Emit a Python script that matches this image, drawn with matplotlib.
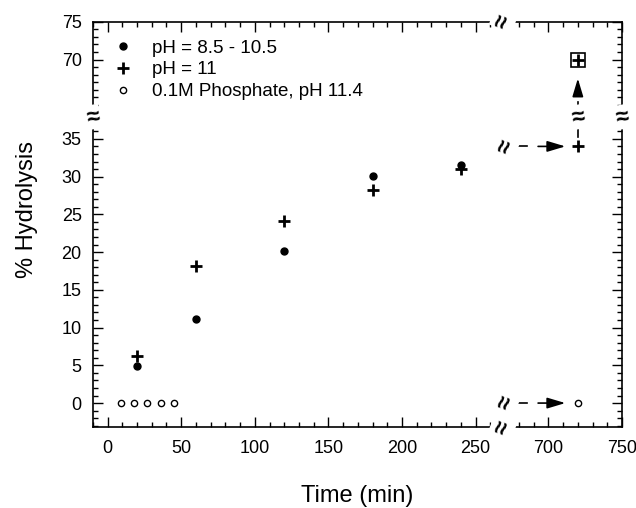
import numpy as np
import matplotlib
matplotlib.use('Agg')
import matplotlib.pyplot as plt
from matplotlib.ticker import FixedLocator

plt.rcParams['font.family'] = ['Liberation Sans', 'DejaVu Sans']

# data
t_a = [20, 60, 120, 180, 240]
h_a = [4.9, 11.1, 20.1, 30.1, 31.6]

t_b = [20, 60, 120, 180, 240, 720]
h_b = [6.2, 18.2, 24.1, 28.2, 31.0, 34.0]

t_c = [9, 18, 27, 36, 45, 720]
h_c = [0, 0, 0, 0, 0, 0]

t_box = [720]
h_box = [70.0]

x_ticks = [0, 50, 100, 150, 200, 250, 700, 750]
y_ticks = [0, 5, 10, 15, 20, 25, 30, 35, 70, 75]

# broken axes: gap in x between xa and xb, gap in y between ya and yb
xa, xb = 268.4, 669.0
ya, yb = 37.9, 62.4


def make_scale(a, b):
    g = b - a

    def fwd(v):
        v = np.asarray(v, dtype=float)
        return v - g * np.clip((v - a) / g, 0, 1)

    def inv(v):
        v = np.asarray(v, dtype=float)
        return np.where(v > a, v + g, v)
    return fwd, inv


fig = plt.figure(figsize=(6.36, 5.08), dpi=100)
ax = fig.add_axes([0.146, 0.159, 0.832, 0.798])
ax.set_xscale('function', functions=make_scale(xa, xb))
ax.set_yscale('function', functions=make_scale(ya, yb))
ax.set_xlim(-10, 750)
ax.set_ylim(-3.2, 75)

ax.plot(t_a, h_a, 'o', color='black', ms=5, label='pH = 8.5 - 10.5')
ax.plot(t_b, h_b, '+', color='black', ms=8, mew=2, label='pH = 11')
ax.plot(t_c, h_c, 'o', mfc='white', mec='black', ms=4.5, mew=1,
        label='0.1M Phosphate, pH 11.4')
ax.plot(t_box, h_box, 's', mfc='white', mec='black', ms=10, mew=1.2)
ax.plot(t_box, h_box, '+', color='black', ms=8.5, mew=2)

ax.xaxis.set_major_locator(FixedLocator(x_ticks))
ax.xaxis.set_minor_locator(FixedLocator(list(range(-10, 270, 10)) + list(range(670, 751, 10))))
ax.yaxis.set_major_locator(FixedLocator(y_ticks))
ax.yaxis.set_minor_locator(FixedLocator(list(range(-3, 38)) + list(range(63, 76))))
ax.set_xticklabels([str(v) for v in x_ticks])
ax.set_yticklabels([str(v) for v in y_ticks])
ax.tick_params(which='both', direction='in', top=True, right=True, width=1,
               labelsize=13)
ax.tick_params(axis='y', pad=8)
ax.tick_params(axis='x', pad=9)
ax.tick_params(which='major', length=7)
ax.tick_params(which='minor', length=3.5)
for s in ax.spines.values():
    s.set_linewidth(1.2)

ax.set_xlabel('Time (min)', fontsize=17)
ax.set_ylabel('% Hydrolysis', fontsize=17)
ax.xaxis.set_label_coords(0.5, -0.143)
ax.yaxis.set_label_coords(-0.104, 0.536)

ax.legend(loc='upper left', bbox_to_anchor=(0.025, 0.975), frameon=False,
          fontsize=13.5, handletextpad=1.05, handlelength=1.0,
          borderaxespad=0, labelspacing=0.25)

# dashed arrows to the off-scale points
x_end, y_end = t_b[-1], h_b[-1]
head = dict(arrowstyle='-|>,head_length=1.1,head_width=0.33', color='black',
            lw=1.2, shrinkA=0, shrinkB=0, mutation_scale=10)
for yy in (h_b[-1], h_c[-1]):
    ax.plot([x_end - 42.3, x_end - 34.2], [yy, yy], color='black', lw=1.2)
    ax.annotate('', xy=(x_end - 8.5, yy), xytext=(x_end - 27, yy), arrowprops=head)
ax.plot([x_end, x_end], [y_end + 1.2, y_end + 2.6], color='black', lw=1.2)
ax.plot([x_end, x_end], [63.3, 64.4], color='black', lw=1.2)
ax.annotate('', xy=(x_end, h_box[0] - 2.5), xytext=(x_end, 65.6), arrowprops=head)

brk = dict(ha='center', va='center', fontsize=17, fontweight='bold',
           bbox=dict(fc='white', ec='none', pad=0.5))
# break marks on the frame
ax.text(xa, 0, '\u2248', transform=ax.get_xaxis_transform(), rotation=70, **brk)
ax.text(xa, 1, '\u2248', transform=ax.get_xaxis_transform(), rotation=70, **brk)
ax.text(0, ya, '\u2248', transform=ax.get_yaxis_transform(), rotation=10, **brk)
ax.text(1, ya, '\u2248', transform=ax.get_yaxis_transform(), rotation=10, **brk)
# break marks on the arrows
ax.text(671, h_b[-1], '\u2248', rotation=70, **brk)
ax.text(671, h_c[-1], '\u2248', rotation=70, **brk)
ax.text(x_end, ya, '\u2248', rotation=10, **brk)

fig.savefig('out.png', dpi=100)
